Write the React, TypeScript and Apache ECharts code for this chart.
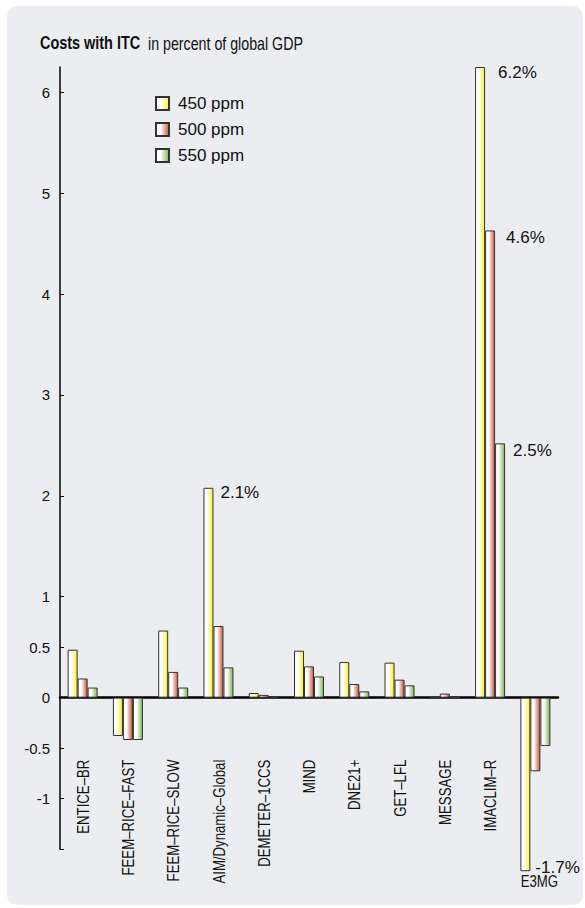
import React, { useEffect, useRef } from "react";
import * as echarts from "echarts";

const categories = [
  "ENTICE–BR",
  "FEEM–RICE–FAST",
  "FEEM–RICE–SLOW",
  "AIM/Dynamic–Global",
  "DEMETER–1CCS",
  "MIND",
  "DNE21+",
  "GET–LFL",
  "MESSAGE",
  "IMACLIM–R",
  "E3MG",
];

const seriesNames = ["450 ppm", "500 ppm", "550 ppm"];

const values450 = [0.475, -0.38, 0.665, 2.08, 0.046, 0.465, 0.353, 0.347, 0.005, 6.25, -1.72];
const values500 = [0.19, -0.42, 0.255, 0.71, 0.027, 0.31, 0.135, 0.178, 0.04, 4.63, -0.73];
const values550 = [0.1, -0.42, 0.1, 0.3, 0.012, 0.21, 0.062, 0.122, 0.003, 2.52, -0.48];

// highlighted value labels: [category, text]
const labels450: [string, string][] = [
  ["AIM/Dynamic–Global", "2.1%"],
  ["IMACLIM–R", "6.2%"],
  ["E3MG", "-1.7%"],
];
const labels500: [string, string][] = [["IMACLIM–R", "4.6%"]];
const labels550: [string, string][] = [["IMACLIM–R", "2.5%"]];

const yTickValues = [-1.5, -1, -0.5, 0, 0.5, 1, 2, 3, 4, 5, 6];
const yLabelValues = [-1, -0.5, 0, 0.5, 1, 2, 3, 4, 5, 6];

const titleBold = "Costs with ITC";
const titleRest = "in percent of global GDP";

const REG = "'Liberation Sans', Arial, sans-serif";

const grad = (c: string) =>
  new echarts.graphic.LinearGradient(0, 0, 1, 0, [
    { offset: 0, color: "#ffffff" },
    { offset: 0.35, color: "#ffffff" },
    { offset: 1, color: c },
  ]);

const labelPos: Record<string, { pos: any; offset: number[] }> = {
  "6.2%": { pos: [23, 0], offset: [0, 5] },
  "4.6%": { pos: [21, 0], offset: [0, 7] },
  "2.5%": { pos: [18, 0], offset: [0, 7] },
  "2.1%": { pos: [17, 0], offset: [0, 5] },
  "-1.7%": { pos: [15, "100%"], offset: [0, -4] },
};

function buildData(values: number[], labels: [string, string][]) {
  return values.map((v, i) => {
    const found = labels.find((l) => l[0] === categories[i]);
    if (!found) return v;
    const p = labelPos[found[1]];
    return {
      value: v,
      label: {
        show: true,
        position: p.pos,
        offset: p.offset,
        formatter: found[1],
        align: "left",
        verticalAlign: "middle",
        fontFamily: REG,
        fontSize: 17,
        color: "#111",
      },
    };
  });
}

export default function App() {
  const ref = useRef<HTMLDivElement>(null);
  useEffect(() => {
    if (!ref.current) return;
    const chart = echarts.init(ref.current, null, { renderer: "svg" });
    const colors = ["#f6ef2e", "#c9563b", "#7bb651"];
    const datas = [
      buildData(values450, labels450),
      buildData(values500, labels500),
      buildData(values550, labels550),
    ];
    chart.setOption({
      animation: false,
      backgroundColor: "#ffffff",
      graphic: [
        {
          type: "rect",
          z: -10,
          shape: { x: 7, y: 6, width: 576, height: 899, r: 10 },
          style: { fill: "#ecedf0" },
          silent: true,
        },
        {
          type: "text",
          x: 40,
          y: 43,
          scaleX: 0.78,
          style: {
            text: titleBold,
            font: `bold 18.5px ${REG}`,
            fill: "#111",
            align: "left",
            verticalAlign: "middle",
          },
        },
        {
          type: "text",
          x: 148,
          y: 43,
          scaleX: 0.79,
          style: {
            text: titleRest,
            font: `18px ${REG}`,
            fill: "#111",
            align: "left",
            verticalAlign: "middle",
          },
        },
      ],
      legend: {
        orient: "vertical",
        left: 155,
        top: 95,
        padding: 0,
        itemWidth: 13,
        itemHeight: 13,
        itemGap: 9,
        icon: "rect",
        data: seriesNames,
        textStyle: {
          fontFamily: REG,
          fontSize: 17,
          color: "#111",
          padding: [0, 0, 0, 4],
        },
      },
      grid: {
        left: 60,
        right: 27,
        top: 67,
        bottom: 59,
        containLabel: false,
        outerBoundsMode: "none",
      },
      xAxis: {
        type: "category",
        data: categories,
        axisLine: { onZero: true, lineStyle: { color: "#000", width: 2.5 } },
        axisTick: { show: false },
        axisLabel: { show: false },
        splitLine: { show: false },
      },
      yAxis: {
        type: "value",
        min: -1.5,
        max: 6.25,
        axisLine: { show: true, lineStyle: { color: "#000", width: 1.5 } },
        axisTick: {
          show: true,
          inside: true,
          length: 4,
          lineStyle: { color: "#000", width: 1 },
          customValues: yTickValues,
        },
        axisLabel: {
          margin: 10,
          fontFamily: REG,
          fontSize: 15,
          color: "#111",
          customValues: yLabelValues,
          formatter: (v: number) => String(v),
        },
        splitLine: { show: false },
      },
      series: [
        ...seriesNames.map((name, k) => ({
          name,
          type: "bar",
          barWidth: 10,
          barGap: "0%",
          clip: false,
          data: datas[k],
          itemStyle: { color: grad(colors[k]), borderColor: "#333", borderWidth: 1 },
        })),
        {
          type: "custom",
          name: "categoryLabels",
          silent: true,
          clip: false,
          z: 5,
          data: categories.map((c, i) => [i, 0]),
          encode: { x: 0, y: 1 },
          renderItem: (params: any, api: any) => {
            const i = api.value(0);
            const p = api.coord([i, 0]);
            const name = categories[i];
            if (name === "E3MG") {
              return {
                type: "text",
                x: p[0] + 4,
                y: p[1] + 183,
                scaleX: 0.8,
                style: {
                  text: name,
                  font: `16.5px ${REG}`,
                  fill: "#111",
                  align: "center",
                  verticalAlign: "middle",
                },
              };
            }
            return {
              type: "text",
              x: p[0],
              y: p[1] + 62,
              rotation: Math.PI / 2,
              scaleX: 0.8,
              style: {
                text: name,
                font: `16.5px ${REG}`,
                fill: "#111",
                align: "right",
                verticalAlign: "middle",
              },
            };
          },
        },
      ],
    });
    return () => chart.dispose();
  }, []);
  return (
    <div
      ref={ref}
      style={{ position: "absolute", left: 0, top: 0, width: 585, height: 908 }}
    />
  );
}
